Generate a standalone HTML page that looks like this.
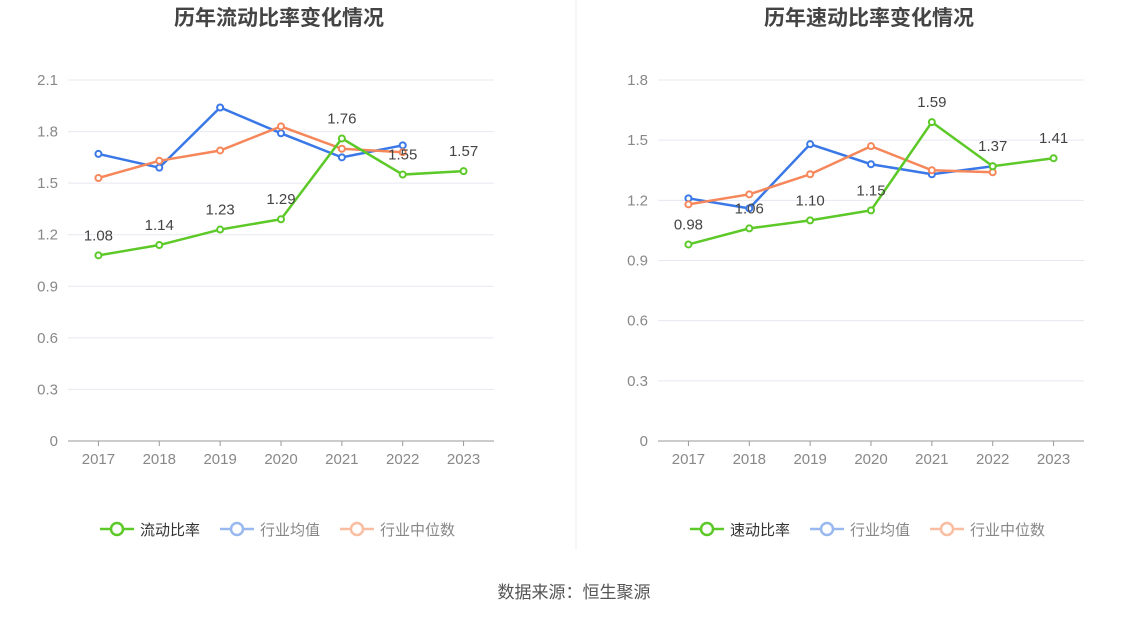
<!DOCTYPE html>
<html><head><meta charset="utf-8"><style>
body{margin:0;background:#fff;width:1148px;height:619px;overflow:hidden;font-family:"Liberation Sans","Noto Sans CJK SC",sans-serif}
</style></head><body>
<svg id="svg" width="1148" height="619" xmlns="http://www.w3.org/2000/svg">
<line x1="576" y1="0" x2="576" y2="550" stroke="#eeeeee"/>
<text x="574" y="598" text-anchor="middle" font-size="17" fill="#555">数据来源：恒生聚源</text>
</svg>
<script>
const years=["2017","2018","2019","2020","2021","2022","2023"];
const leftCompany=[1.08,1.14,1.23,1.29,1.76,1.55,1.57];
const leftAvg=[1.67,1.59,1.94,1.79,1.65,1.72];
const leftMedian=[1.53,1.63,1.69,1.83,1.70,1.68];
const leftTicks=[0,0.3,0.6,0.9,1.2,1.5,1.8,2.1];
const rightCompany=[0.98,1.06,1.10,1.15,1.59,1.37,1.41];
const rightAvg=[1.21,1.16,1.48,1.38,1.33,1.37];
const rightMedian=[1.18,1.23,1.33,1.47,1.35,1.34];
const rightTicks=[0,0.3,0.6,0.9,1.2,1.5,1.8];
const svg=document.getElementById('svg');
const NS='http://www.w3.org/2000/svg';
function mk(tag,attrs,parent){const e=document.createElementNS(NS,tag);for(const k in attrs)e.setAttribute(k,attrs[k]);(parent||svg).appendChild(e);return e;}
function chart(ox,title,name,company,avg,median,ticks){
  const g=mk('g',{});
  
  
  const x0=ox+30,x1=ox+456,yTop=80,yBot=441,max=ticks[ticks.length-1];
  const step=(x1-x0)/years.length;
  const X=i=>x0+step*(i+0.5);
  const Y=v=>yBot-(v/max)*(yBot-yTop);
  const t=mk('text',{x:ox+241,y:25,'text-anchor':'middle','font-size':21,'font-weight':'bold',fill:'#444'},g);t.textContent=title;
  
  
  ticks.forEach(v=>{
    const l=mk('line',{x1:x0,x2:x1,y1:Y(v),y2:Y(v),stroke:v===0?'#999':'#e6e8f0'},g);
    
    
    const tx=mk('text',{x:x0-10,y:Y(v)+5,'text-anchor':'end','font-size':15,fill:'#888'},g);tx.textContent=v===0?'0':v.toFixed(1);
    
    
  });
  years.forEach((y,i)=>{
    const tk=mk('line',{x1:X(i),x2:X(i),y1:yBot,y2:yBot+5,stroke:'#999'},g);
    
    
    const tx=mk('text',{x:X(i),y:464,'text-anchor':'middle','font-size':15,fill:'#888'},g);tx.textContent=y;
    
    
  });
  const series=[[avg,'#3a78e8','industry-average'],[median,'#f5875a','industry-median'],[company,'#5cc928','company-ratio']];
  series.forEach(([d,c,n])=>{
    const p=mk('polyline',{points:d.map((v,i)=>X(i)+','+Y(v)).join(' '),fill:'none',stroke:c,'stroke-width':2.5},g);
    
    
    d.forEach((v,i)=>{
      const ci=mk('circle',{cx:X(i),cy:Y(v),r:3,fill:'#fff',stroke:c,'stroke-width':2},g);
      
      
    });
  });
  company.forEach((v,i)=>{
    const tx=mk('text',{x:X(i),y:Y(v)-15,'text-anchor':'middle','font-size':15,fill:'#444'},g);tx.textContent=v.toFixed(2);
    
    
  });
  const leg=[[name==='left-chart'?'流动比率':'速动比率','#5cc928',ox+62,'#333'],['行业均值','#9ab8f0',ox+182,'#888'],['行业中位数','#f9bda2',ox+302,'#888']];
  leg.forEach(([lab,c,lx,tc])=>{
    const lg=mk('g',{},g);
    
    
    mk('line',{x1:lx,x2:lx+34,y1:529,y2:529,stroke:c,'stroke-width':2.5},lg);
    mk('circle',{cx:lx+17,cy:529,r:6,fill:'#fff',stroke:c,'stroke-width':2.5},lg);
    const tx=mk('text',{x:lx+40,y:535,'font-size':15,fill:tc},lg);tx.textContent=lab;
  });
}
chart(38,'历年流动比率变化情况','left-chart',leftCompany,leftAvg,leftMedian,leftTicks);
chart(628,'历年速动比率变化情况','right-chart',rightCompany,rightAvg,rightMedian,rightTicks);
</script>
</body></html>
